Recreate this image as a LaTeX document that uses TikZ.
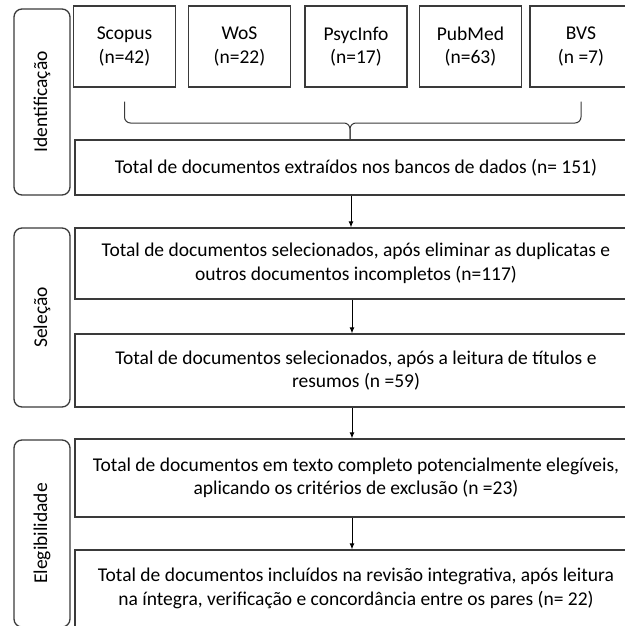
\documentclass[tikz,border=0pt]{standalone}
\usepackage{fontspec}
\setmainfont{Carlito}
\usepackage{xcolor}
\definecolor{box_gray}{RGB}{58,58,58}
\usetikzlibrary{arrows.meta}
\tikzset{
  stagebox/.style={draw=box_gray, line width=1.3pt, rounded corners=8pt, rotate=90, minimum height=56pt},
  sourcebox/.style={draw=box_gray, line width=1.3pt, minimum width=102pt, minimum height=81pt, align=center},
  countbox/.style={draw=box_gray, line width=1.3pt, minimum width=562pt, align=center},
  brace/.style={draw=box_gray, line width=1pt, rounded corners=6pt},
  flow/.style={-{Latex[length=6pt,width=5pt]}, line width=0.9pt}
}
\begin{document}
\begin{tikzpicture}[x=1pt, y=-1pt, font=\fontsize{19.5}{23.5}\selectfont]
\useasboundingbox (0,0) rectangle (624,626);

\node[stagebox, minimum width=186pt] (ident) at (42,102) {Identificação};
\node[stagebox, minimum width=179pt] (selec) at (42,317.5) {Seleção};
\node[stagebox, minimum width=187pt] (elegi) at (42,533.5) {Elegibilidade};

\node[sourcebox] (scopus) at (124.5,46.5) {Scopus\\(n=42)};
\node[sourcebox] (wos) at (239.5,46.5) {WoS\\(n=22)};
\node[sourcebox] (psyc) at (356,46.5) {PsycInfo\\(n=17)};
\node[sourcebox] (pubmed) at (470.5,46.5) {PubMed\\(n=63)};
\node[sourcebox] (bvs) at (581,46.5) {BVS\\(n =7)};

\node[countbox, minimum height=55pt] (total) at (356,167.5) {Total de documentos extraídos nos bancos de dados (n= 151)};
\node[countbox, minimum height=71pt] (dupl) at (356,263.5) {Total de documentos selecionados, após eliminar as duplicatas e\\outros documentos incompletos (n=117)};
\node[countbox, minimum height=73pt] (resum) at (356,370.5) {Total de documentos selecionados, após a leitura de títulos e\\resumos (n =59)};
\node[countbox, minimum height=78pt] (exclu) at (356,478) {Total de documentos em texto completo potencialmente elegíveis,\\aplicando os critérios de exclusão (n =23)};
\node[countbox, minimum height=77pt] (inclu) at (356,588.5) {Total de documentos incluídos na revisão integrativa, após leitura\\na íntegra, verificação e concordância entre os pares (n= 22)};

\coordinate (bracemid) at (350,123);
\draw[brace] ([yshift=-14pt]scopus.south) |- (bracemid) -- (bracemid |- total.north);
\draw[brace] ([yshift=-14pt]bvs.south) |- (bracemid) -- (bracemid |- total.north);

\draw[flow] ([xshift=-5pt]total.south) -- ([xshift=-5pt]dupl.north);
\draw[flow] ([xshift=-4pt]dupl.south) -- ([xshift=-4pt]resum.north);
\draw[flow] ([xshift=-4pt]resum.south) -- ([xshift=-4pt]exclu.north);
\draw[flow] ([xshift=-4pt]exclu.south) -- ([xshift=-4pt]inclu.north);

\end{tikzpicture}
\end{document}
